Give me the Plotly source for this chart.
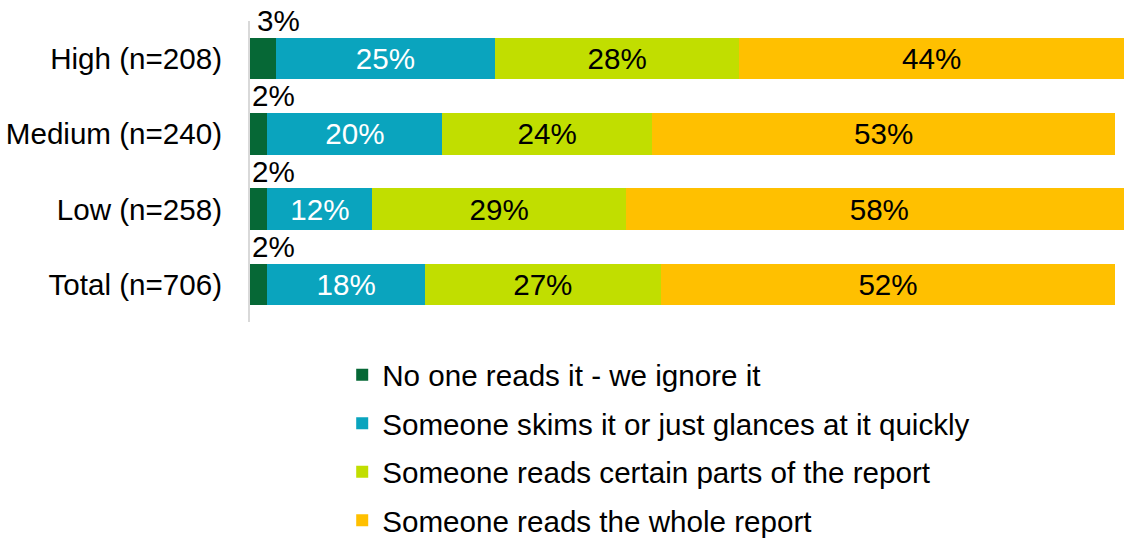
import plotly.graph_objects as go

# Survey groups and share of respondents per reading behaviour (%)
groups = ["High (n=208)", "Medium (n=240)", "Low (n=258)", "Total (n=706)"]
no_one_reads = [3, 2, 2, 2]
skims = [25, 20, 12, 18]
reads_parts = [28, 24, 29, 27]
reads_whole = [44, 53, 58, 52]

series_names = [
    "No one reads it - we ignore it",
    "Someone skims it or just glances at it quickly",
    "Someone reads certain parts of the report",
    "Someone reads the whole report",
]
series_values = [no_one_reads, skims, reads_parts, reads_whole]
series_colors = ["#066836", "#0aa4be", "#c1de00", "#ffc000"]
label_colors = ["#000000", "#ffffff", "#000000", "#000000"]

FONT = "Liberation Sans, Arial, sans-serif"
FS = 29.6

fig = go.Figure()
for i, (name, vals, col, lcol) in enumerate(
    zip(series_names, series_values, series_colors, label_colors)
):
    show_inside = i > 0
    fig.add_trace(
        go.Bar(
            y=groups,
            x=vals,
            name=name,
            orientation="h",
            marker=dict(color=col, line=dict(width=0)),
            text=[f"{v}%" for v in vals] if show_inside else None,
            textposition="inside" if show_inside else "none",
            insidetextanchor="middle",
            textangle=0,
            constraintext="none",
            insidetextfont=dict(family=FONT, size=FS, color=lcol),
            legendgroup=f"g{i}",
            hoverinfo="skip",
        )
    )

# Small first-segment values sit above their bars
for g, v in zip(groups, no_one_reads):
    fig.add_annotation(
        x=v / 2,
        y=g,
        text=f"{v}%",
        showarrow=False,
        xanchor="center",
        yanchor="middle",
        xshift=15,
        yshift=38,
        font=dict(family=FONT, size=FS, color="#000000"),
    )

fig.update_layout(
    width=1124,
    height=540,
    barmode="stack",
    bargap=0.45,
    plot_bgcolor="white",
    paper_bgcolor="white",
    margin=dict(l=250, r=0, t=21, b=218, autoexpand=False),
    font=dict(family=FONT, size=FS, color="#000000"),
    showlegend=True,
    legend=dict(
        orientation="v",
        traceorder="grouped",
        tracegroupgap=7,
        x=0.1055,
        y=-0.09,
        xanchor="left",
        yanchor="top",
        font=dict(family=FONT, size=FS, color="#000000"),
        bgcolor="rgba(0,0,0,0)",
    ),
    xaxis=dict(
        range=[0, 100],
        showgrid=False,
        zeroline=False,
        showticklabels=False,
        showline=False,
        fixedrange=True,
        automargin=False,
    ),
    yaxis=dict(
        categoryorder="array",
        categoryarray=groups,
        range=[3.5, -0.5],
        showgrid=False,
        zeroline=False,
        showline=True,
        linecolor="#d9d9d9",
        linewidth=2,
        ticks="",
        ticklabelstandoff=20,
        automargin=False,
        tickfont=dict(family=FONT, size=FS, color="#000000"),
    ),
)

fig.write_html("out.html")
